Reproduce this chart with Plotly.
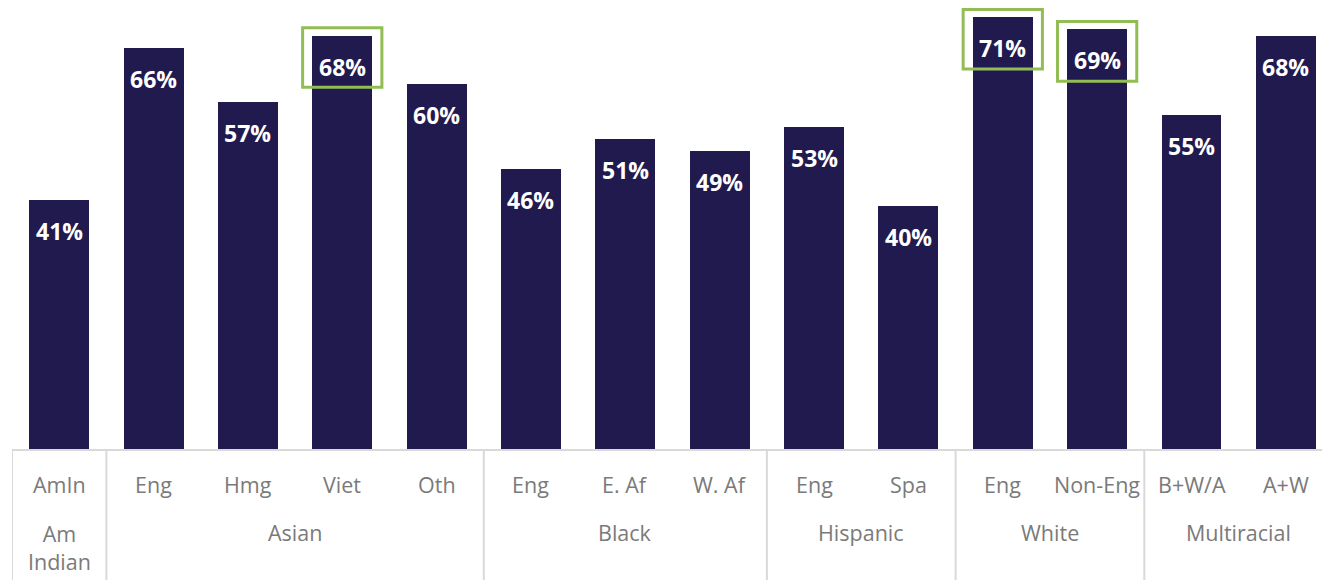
import plotly.graph_objects as go

# Sub-group labels, parent groups and share (%) for each bar
sub_labels = ["AmIn", "Eng", "Hmg", "Viet", "Oth", "Eng", "E. Af", "W. Af",
              "Eng", "Spa", "Eng", "Non-Eng", "B+W/A", "A+W"]
groups = ["Am<br>Indian", "Asian", "Black", "Hispanic", "White", "Multiracial"]
group_sizes = [1, 4, 3, 2, 2, 2]
values = [41, 66, 57, 68, 60, 46, 51, 49, 53, 40, 71, 69, 55, 68]
highlighted = [3, 10, 11]

BAR = "#201a4f"
GRID = "#d9d9d9"
LABEL = "#7a7a7a"
GREEN = "#92bd55"
FONT = "Open Sans"

x = list(range(len(values)))

fig = go.Figure(go.Bar(
    x=x, y=values, width=0.635, marker=dict(color=BAR, line=dict(width=0)),
    hoverinfo="skip",
))

annotations = []
shapes = []

# value labels inside bar tops
for i, v in zip(x, values):
    annotations.append(dict(
        x=i, y=v, xref="x", yref="y", text=f"<b>{v}%</b>", showarrow=False,
        yshift=-31, font=dict(family=FONT, size=23, color="white"),
        xanchor="center", yanchor="middle",
    ))

# first-level category labels
for i, lab in zip(x, sub_labels):
    annotations.append(dict(
        x=i, y=-0.078, xref="x", yref="paper", text=lab, showarrow=False,
        font=dict(family=FONT, size=21.5, color=LABEL),
        xanchor="center", yanchor="middle",
    ))

# group labels and separators
start = 0
bounds = [-0.5]
for g, n in zip(groups, group_sizes):
    center = start + (n - 1) / 2
    two_line = "<br>" in g
    annotations.append(dict(
        x=center, y=-0.219 if two_line else -0.185, xref="x", yref="paper",
        text=g, showarrow=False,
        font=dict(family=FONT, size=21.5, color=LABEL),
        xanchor="center", yanchor="middle",
    ))
    start += n
    bounds.append(start - 0.5)

for b in bounds[:-1]:
    shapes.append(dict(type="line", xref="x", yref="paper", x0=b, x1=b,
                       y0=0, y1=-0.3, line=dict(color=GRID, width=2)))

# green highlight boxes
for i in highlighted:
    v = values[i]
    shapes.append(dict(type="rect", xref="x", yref="y",
                       x0=i - 0.42, x1=i + 0.42, y0=v - 8.5, y1=v + 1.3,
                       line=dict(color=GREEN, width=3)))

fig.update_layout(
    width=1322, height=580,
    margin=dict(l=12, r=0, t=0, b=131),
    paper_bgcolor="white", plot_bgcolor="white",
    showlegend=False, bargap=0,
    xaxis=dict(range=[-0.5, 13.383], showticklabels=False, showgrid=False,
               zeroline=False, showline=True, linecolor=GRID, linewidth=2,
               ticks="", fixedrange=True),
    yaxis=dict(range=[0, 73.85], visible=False, fixedrange=True),
    annotations=annotations,
    shapes=shapes,
)

fig.write_html("out.html")
